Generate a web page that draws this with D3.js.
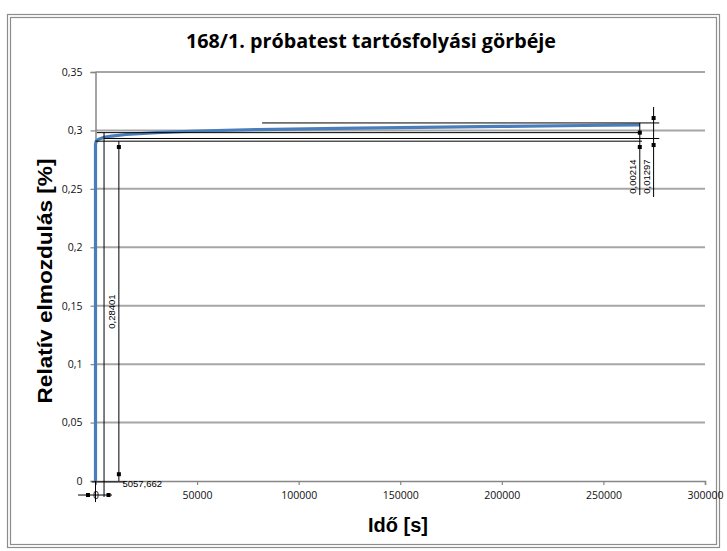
<!DOCTYPE html>
<html><head><meta charset="utf-8">
<script src="https://cdn.jsdelivr.net/npm/d3@7"></script>
<style>body{margin:0;background:#fff}svg{display:block}</style>
</head><body>
<script>
// ---- data ----
const timeS = [0, 0, 300, 1500, 4000, 8000, 15000, 30000, 50000, 80000, 120000, 160000, 200000, 240000, 268000];
const strainPct = [0, 0.2880, 0.2905, 0.2925, 0.2940, 0.2952, 0.2965, 0.2982, 0.2995, 0.3007, 0.3018, 0.3026, 0.3034, 0.3042, 0.3048];
const xTicks = [0, 50000, 100000, 150000, 200000, 250000, 300000];
const yTicks = [0, 0.05, 0.1, 0.15, 0.2, 0.25, 0.3, 0.35];
const title = "168/1. próbatest tartósfolyási görbéje";
const xTitle = "Idő [s]";
const yTitle = "Relatív elmozdulás [%]";
// dimension annotations (data units)
const dimLabels = ["0,28401", "5057,662", "0,00214", "0,01297"];
const extLines = [ // [t0, t1, value]
  [82000, 277500, 0.3064],
  [700, 267900, 0.2981],
  [4200, 277500, 0.2931],
  [0, 269000, 0.2908]
];
const dimV = [ // vertical dimension lines: [t, v0, v1, markerA, markerB]
  [11500, 0.2908, 0.0, 0.2858, 0.0058],
  [267900, 0.3064, 0.2447, 0.2981, 0.2858],
  [274700, 0.3201, 0.2430, 0.3106, 0.2875]
];
const extV = [ // vertical extension lines: [t, v0, v1]
  [4200, 0.2981, -0.0137],
  [0, 0.0, -0.0180]
];
const dimH = [[-8600, 8100, -0.0120, -3700, 6400]]; // horizontal dim line [t0,t1,v,markerA,markerB]

const W = 727, H = 551;
const svg = d3.select("body").append("svg").attr("width", W).attr("height", H);
const x = d3.scaleLinear().domain([0, 300000]).range([95.5, 705]);
const y = d3.scaleLinear().domain([0, 0.35]).range([481, 72]);
const fmt = v => d3.format("~g")(+v.toFixed(4)).replace(".", ",");

// chart border (double)
svg.append("rect").attr("x", 7.5).attr("y", 14.5).attr("width", 712).attr("height", 533)
  .attr("fill", "none").attr("stroke", "#8c8c8c").attr("stroke-width", 1.2);
svg.append("rect").attr("x", 10.5).attr("y", 17.5).attr("width", 706).attr("height", 527)
  .attr("fill", "none").attr("stroke", "#8c8c8c").attr("stroke-width", 1.2);

// title
svg.append("text").attr("x", 371).attr("y", 48).attr("text-anchor", "middle")
  .attr("font-family", "'Open Sans', sans-serif").attr("font-weight", "bold").attr("font-size", 20)
  .attr("textLength", 370).attr("lengthAdjust", "spacingAndGlyphs").attr("fill", "#000").text(title);

// gridlines
svg.append("g").selectAll("line").data(yTicks.filter(d => d > 0)).join("line")
  .attr("x1", x(0)).attr("x2", x(300000)).attr("y1", d => y(d)).attr("y2", d => y(d))
  .attr("stroke", "#a6a6a6").attr("stroke-width", 2);

// axes
const gx = svg.append("g").attr("transform", `translate(0,${y(0)})`)
  .call(d3.axisBottom(x).tickValues(xTicks).tickSize(4).tickPadding(7).tickFormat(d => String(d)));
const gy = svg.append("g").attr("transform", `translate(${x(0)},0)`)
  .call(d3.axisLeft(y).tickValues(yTicks).tickSize(5).tickPadding(8).tickFormat(fmt));
[gx, gy].forEach(g => {
  g.select(".domain").attr("stroke", "#868686").attr("stroke-width", 1.5);
  g.selectAll(".tick line").attr("stroke", "#868686").attr("stroke-width", 1.2);
  g.selectAll("text").attr("font-family", "'Open Sans', sans-serif").attr("font-size", 10.5).attr("fill", "#111");
});

// axis titles
svg.append("text").attr("x", 398).attr("y", 532).attr("text-anchor", "middle")
  .attr("font-family", "'Liberation Sans', Arial, sans-serif").attr("font-weight", "bold").attr("font-size", 20)
  .text(xTitle);
svg.append("text").attr("transform", "translate(52,281) rotate(-90)").attr("text-anchor", "middle")
  .attr("font-family", "'Liberation Sans', Arial, sans-serif").attr("font-weight", "bold").attr("font-size", 20)
  .attr("textLength", 245).attr("lengthAdjust", "spacingAndGlyphs")
  .text(yTitle);

// data line
const pts = timeS.map((t, i) => [t, strainPct[i]]);
svg.append("path").datum(pts)
  .attr("d", d3.line().x(d => x(d[0])).y(d => y(d[1])))
  .attr("fill", "none").attr("stroke", "#4a7ebb").attr("stroke-width", 3.2).attr("stroke-linejoin", "round");

// annotations
const ann = svg.append("g").attr("stroke", "#000").attr("stroke-width", 1).attr("fill", "none");
ann.selectAll(".eh").data(extLines).join("line")
  .attr("x1", d => x(d[0])).attr("x2", d => x(d[1])).attr("y1", d => y(d[2])).attr("y2", d => y(d[2]));
ann.selectAll(".dv").data(dimV).join("line")
  .attr("x1", d => x(d[0])).attr("x2", d => x(d[0])).attr("y1", d => y(d[1])).attr("y2", d => y(d[2]));
ann.selectAll(".ev").data(extV).join("line")
  .attr("x1", d => x(d[0])).attr("x2", d => x(d[0])).attr("y1", d => y(d[1])).attr("y2", d => y(d[2]));
ann.selectAll(".dh").data(dimH).join("line")
  .attr("x1", d => x(d[0])).attr("x2", d => x(d[1])).attr("y1", d => y(d[2])).attr("y2", d => y(d[2]));
// leader line under 5057,662
ann.append("line").attr("x1", x(-1800)).attr("x2", x(14500)).attr("y1", y(-0.0008)).attr("y2", y(-0.0008));

const markers = [];
dimV.forEach(d => { markers.push([d[0], d[3]]); markers.push([d[0], d[4]]); });
dimH.forEach(d => { markers.push([d[3], d[2]]); markers.push([d[4], d[2]]); });
svg.append("g").selectAll("rect").data(markers).join("rect")
  .attr("x", d => x(d[0]) - 2).attr("y", d => y(d[1]) - 2).attr("width", 4).attr("height", 4).attr("fill", "#000");

// dimension labels
const lab = svg.append("g").attr("font-family", "'Liberation Sans', Arial, sans-serif").attr("font-size", 9.5).attr("fill", "#000");
lab.append("text").attr("transform", `translate(${x(11500) - 4},${y(0.145)}) rotate(-90)`).attr("text-anchor", "middle").text(dimLabels[0]);
lab.append("text").attr("x", x(23000)).attr("y", y(-0.0055)).attr("text-anchor", "middle").text(dimLabels[1]);
lab.append("text").attr("transform", `translate(${x(267900) - 4},${y(0.2605)}) rotate(-90)`).attr("text-anchor", "middle").text(dimLabels[2]);
lab.append("text").attr("transform", `translate(${x(274700) - 4},${y(0.2605)}) rotate(-90)`).attr("text-anchor", "middle").text(dimLabels[3]);
</script>
</body></html>
